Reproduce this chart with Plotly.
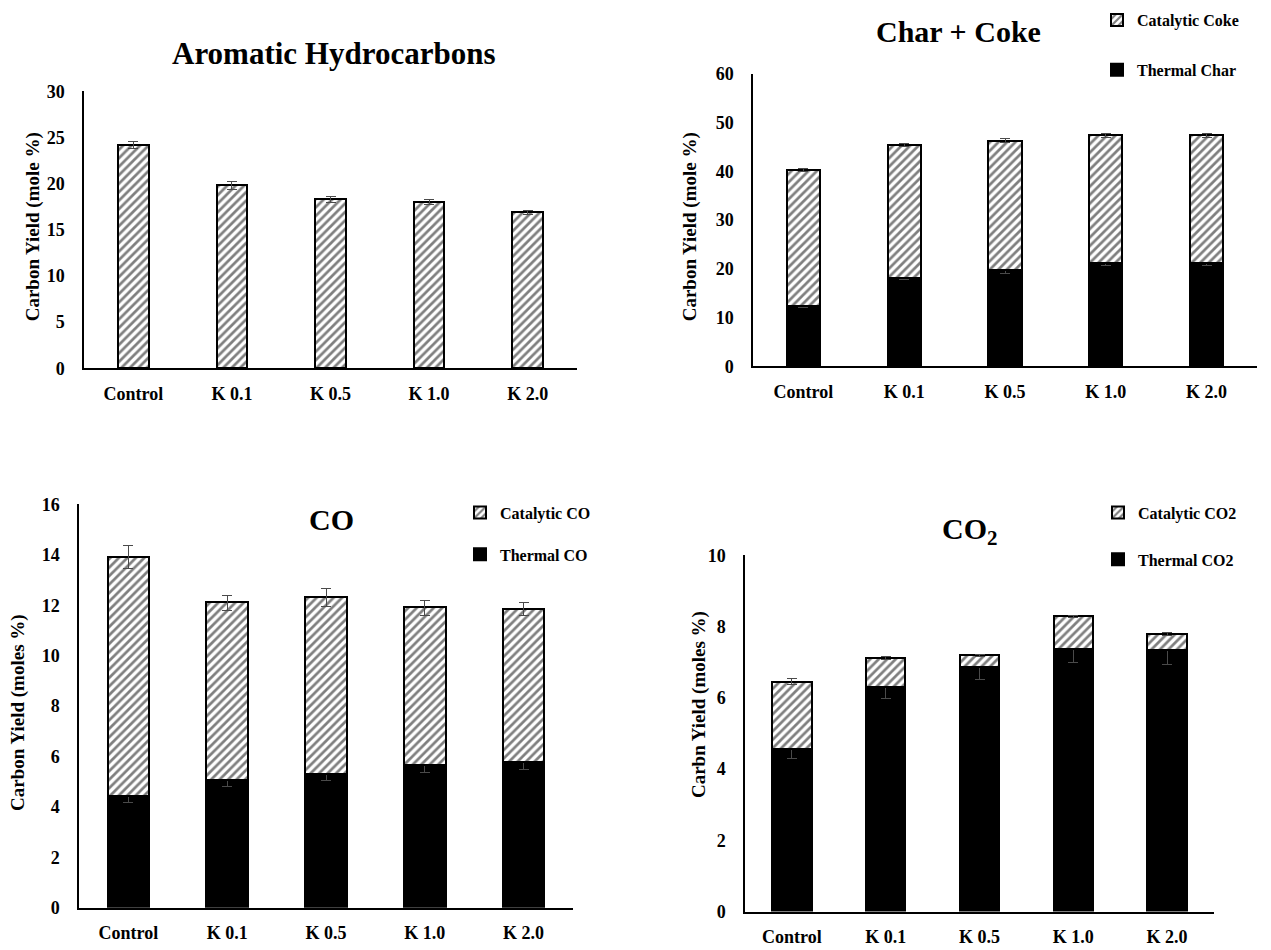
import plotly.graph_objects as go

W, H = 1271, 950

# ---- data -----------------------------------------------------------------
categories = ["Control", "K 0.1", "K 0.5", "K 1.0", "K 2.0"]

aromatic = [24.2, 19.8, 18.3, 18.0, 16.9]
aromatic_err = [0.4, 0.45, 0.3, 0.3, 0.2]

thermal_char = [12.4, 18.2, 19.8, 21.2, 21.2]
thermal_char_err = [0.4, 0.5, 0.7, 0.6, 0.5]
catalytic_coke = [27.9, 27.2, 26.5, 26.2, 26.2]
catalytic_coke_err = [0.3, 0.3, 0.5, 0.4, 0.4]

thermal_co = [4.4, 5.05, 5.3, 5.65, 5.75]
thermal_co_err = [0.22, 0.24, 0.25, 0.27, 0.27]
catalytic_co = [9.5, 7.05, 7.0, 6.25, 6.1]
catalytic_co_err = [0.45, 0.3, 0.35, 0.3, 0.26]

thermal_co2 = [4.55, 6.3, 6.86, 7.36, 7.33]
thermal_co2_err = [0.24, 0.32, 0.35, 0.38, 0.4]
catalytic_co2 = [1.9, 0.82, 0.32, 0.92, 0.46]
catalytic_co2_err = [0.08, 0.05, 0.03, 0.04, 0.04]

# ---- styling helpers --------------------------------------------------------
FONT = "Liberation Serif, Times New Roman, Times, serif"
hatch = dict(shape="/", fgcolor="black", bgcolor="white", size=6, solidity=0.45)
err_style = dict(type="data", color="#4a4a4a", thickness=1, width=5, visible=True)


def fx(p):
    return p / W


def fy(p):
    return 1 - p / H


# panel boxes in pixels: x0, x1, y_top, y_bottom, y max, dtick, bar width
panels = [
    dict(x0=84, x1=577, yt=83, yb=366, ymax=30, dtick=5, bw=0.31),
    dict(x0=753, x1=1257, yt=65, yb=364, ymax=60, dtick=10, bw=0.33),
    dict(x0=79, x1=573, yt=505, yb=917, ymax=16, dtick=2, bw=0.42),
    dict(x0=745, x1=1214, yt=557, yb=921, ymax=10, dtick=2, bw=0.42),
]

fig = go.Figure()


def add_bar(i, y, err, name, solid, legend=None, rank=1):
    p = panels[i]
    sfx = "" if i == 0 else str(i + 1)
    marker = dict(line=dict(color="black", width=2))
    if solid:
        marker["color"] = "black"
    else:
        marker["color"] = "white"
        marker["pattern"] = hatch
    fig.add_trace(go.Bar(
        x=categories, y=y, name=name, width=p["bw"],
        marker=marker,
        error_y=dict(array=err, **err_style),
        xaxis="x" + sfx, yaxis="y" + sfx,
        showlegend=legend is not None,
        legend=legend if legend else "legend",
        legendgroup=name, legendrank=rank,
    ))


add_bar(0, aromatic, aromatic_err, "Aromatic Hydrocarbons", False)
add_bar(1, thermal_char, thermal_char_err, "Thermal Char", True, "legend", 2)
add_bar(1, catalytic_coke, catalytic_coke_err, "Catalytic Coke", False, "legend", 1)
add_bar(2, thermal_co, thermal_co_err, "Thermal CO", True, "legend2", 2)
add_bar(2, catalytic_co, catalytic_co_err, "Catalytic CO", False, "legend2", 1)
add_bar(3, thermal_co2, thermal_co2_err, "Thermal CO2", True, "legend3", 2)
add_bar(3, catalytic_co2, catalytic_co2_err, "Catalytic CO2", False, "legend3", 1)

tick_font = dict(family=FONT, size=18, color="black", weight="bold")
layout = dict(
    width=W, height=H, margin=dict(l=0, r=0, t=0, b=0),
    paper_bgcolor="white", plot_bgcolor="white",
    barmode="stack", bargap=0.0,
    font=dict(family=FONT, color="black"),
)

for i, p in enumerate(panels):
    sfx = "" if i == 0 else str(i + 1)
    layout["xaxis" + sfx] = dict(
        domain=[fx(p["x0"]), fx(p["x1"])], anchor="y" + sfx,
        showline=True, linecolor="black", linewidth=1.5,
        ticks="", showgrid=False, tickfont=tick_font,
        ticklabelstandoff=8, fixedrange=True,
    )
    layout["yaxis" + sfx] = dict(
        domain=[fy(p["yb"]), fy(p["yt"])], anchor="x" + sfx,
        range=[0, p["ymax"]], dtick=p["dtick"], tick0=0,
        showline=True, linecolor="black", linewidth=1.5,
        ticks="", showgrid=False, zeroline=False, tickfont=tick_font,
        ticklabelstandoff=14, fixedrange=True,
    )

leg_common = dict(
    xanchor="left", yanchor="top", bgcolor="rgba(0,0,0,0)",
    font=dict(family=FONT, size=16, color="black", weight="bold"),
    traceorder="grouped", itemwidth=30,
)
layout["legend"] = dict(x=fx(1097), y=fy(-7), tracegroupgap=26, **leg_common)
layout["legend2"] = dict(x=fx(460), y=fy(496), tracegroupgap=18, **leg_common)
layout["legend3"] = dict(x=fx(1098), y=fy(496), tracegroupgap=23, **leg_common)

label_font = dict(family=FONT, size=19, color="black", weight="bold")
annotations = []
titles = [
    ("Aromatic Hydrocarbons", 333, 44, 31),
    ("Char + Coke", 958, 22, 30),
    ("CO", 331, 520, 30),
    ("CO<sub>2</sub>", 970, 532, 30),
]
for text, x, y, size in titles:
    annotations.append(dict(text=text, x=fx(x), y=fy(y), xref="paper", yref="paper",
                            xanchor="center", yanchor="middle", showarrow=False,
                            font=dict(family=FONT, size=size, color="black",
                                      weight="bold")))
ylabels = [
    ("Carbon Yield (mole %)", 33, 222),
    ("Carbon Yield (mole %)", 690, 222),
    ("Carbon Yield (moles %)", 18, 718),
    ("Carbn Yield (moles %)", 699, 710),
]
for text, x, y in ylabels:
    annotations.append(dict(text=text, x=fx(x), y=fy(y), xref="paper", yref="paper",
                            xanchor="center", yanchor="middle", showarrow=False,
                            textangle=-90, font=label_font))
layout["annotations"] = annotations

fig.update_layout(**layout)
fig.write_html("out.html")
